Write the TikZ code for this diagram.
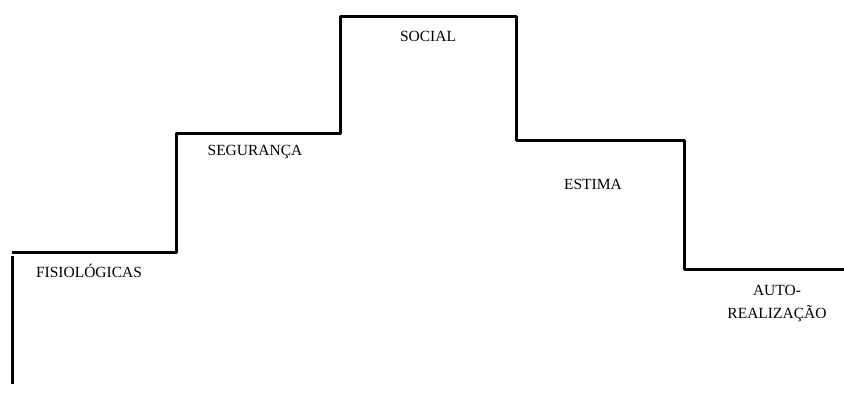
\documentclass[tikz,border=0pt]{standalone}
\usepackage{fontspec}
\setmainfont{Liberation Serif}
\begin{document}
\begin{tikzpicture}[x=1pt,y=-1pt,
  stair/.style={line width=3pt,line join=round,line cap=butt},
  lbl/.style={font=\fontsize{15.5}{23}\selectfont,inner sep=0pt,align=center}]
\useasboundingbox (0,0) rectangle (844,394);
\draw[stair] (12,252) -- (176,252) -- (176,133) -- (340,133) -- (340,16)
  -- (516,16) -- (516,140) -- (684,140) -- (684,269) -- (844,269);
\draw[stair] (12,256) -- (12,384);
\node[lbl] (fis) at (89,271) {FISIOLÓGICAS};
\node[lbl] (seg) at (255,152) {SEGURANÇA};
\node[lbl] (soc) at (428,36) {SOCIAL};
\node[lbl] (est) at (593,184) {ESTIMA};
\node[lbl] (aut) at (777,304) {AUTO-\\REALIZAÇÃO};
\end{tikzpicture}
\end{document}
